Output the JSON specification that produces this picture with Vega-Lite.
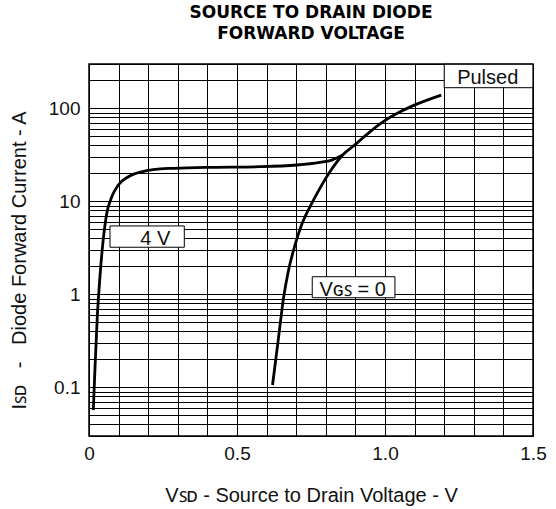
{
  "$schema": "https://vega.github.io/schema/vega-lite/v6.json",
  "width": 444,
  "height": 372,
  "autosize": {"type": "none"},
  "padding": {"left": 89, "top": 64, "right": 23, "bottom": 73},
  "background": "white",
  "title": {
    "text": ["SOURCE TO DRAIN DIODE", "FORWARD VOLTAGE"],
    "font": "DejaVu Sans",
    "fontSize": 17,
    "fontWeight": "bold",
    "color": "#000",
    "lineHeight": 21,
    "anchor": "middle",
    "frame": "group",
    "offset": 12
  },
  "config": {
    "view": {"stroke": "#000", "strokeWidth": 1.5},
    "font": "Liberation Sans"
  },
  "datasets": {
    "curves": [
      {"s": "4V", "v": 0.0146, "i": 0.057},
      {"s": "4V", "v": 0.020, "i": 0.154},
      {"s": "4V", "v": 0.028, "i": 0.575},
      {"s": "4V", "v": 0.037, "i": 1.55},
      {"s": "4V", "v": 0.048, "i": 3.85},
      {"s": "4V", "v": 0.060, "i": 7.4},
      {"s": "4V", "v": 0.077, "i": 11.2},
      {"s": "4V", "v": 0.099, "i": 15},
      {"s": "4V", "v": 0.133, "i": 18.4},
      {"s": "4V", "v": 0.178, "i": 20.8},
      {"s": "4V", "v": 0.268, "i": 22.6},
      {"s": "4V", "v": 0.392, "i": 23.2},
      {"s": "4V", "v": 0.578, "i": 23.6},
      {"s": "4V", "v": 0.702, "i": 24.6},
      {"s": "4V", "v": 0.780, "i": 26.3},
      {"s": "4V", "v": 0.820, "i": 27.8},
      {"s": "4V", "v": 0.857, "i": 31.5},
      {"s": "0V", "v": 0.620, "i": 0.106},
      {"s": "0V", "v": 0.640, "i": 0.337},
      {"s": "0V", "v": 0.657, "i": 0.906},
      {"s": "0V", "v": 0.673, "i": 1.75},
      {"s": "0V", "v": 0.696, "i": 3.4},
      {"s": "0V", "v": 0.718, "i": 5.57},
      {"s": "0V", "v": 0.747, "i": 8.8},
      {"s": "0V", "v": 0.780, "i": 13.8},
      {"s": "0V", "v": 0.814, "i": 20.8},
      {"s": "0V", "v": 0.857, "i": 31.5},
      {"s": "0V", "v": 0.904, "i": 42},
      {"s": "0V", "v": 0.949, "i": 56},
      {"s": "0V", "v": 0.994, "i": 72},
      {"s": "0V", "v": 1.051, "i": 92},
      {"s": "0V", "v": 1.107, "i": 111},
      {"s": "0V", "v": 1.190, "i": 139}
    ],
    "lab4": [{"label": "4 V", "v": 0.224, "i": 3.4}],
    "labP": [{"label": "Pulsed", "v": 1.347, "i": 181.5}],
    "labG": [{"label": "Vɢꜱ = 0", "v": 0.891, "i": 0.96}]
  },
  "encoding": {
    "x": {
      "field": "v",
      "type": "quantitative",
      "scale": {"domain": [0, 1.5], "nice": false, "zero": false},
      "axis": {
        "values": [0, 0.1, 0.2, 0.3, 0.4, 0.5, 0.6, 0.7, 0.8, 0.9, 1.0, 1.1, 1.2, 1.3, 1.4, 1.5],
        "labelExpr": "datum.value == 0 ? '0' : datum.value == 0.5 ? '0.5' : datum.value == 1 ? '1.0' : datum.value == 1.5 ? '1.5' : ''",
        "grid": true,
        "gridColor": "#000",
        "gridWidth": 1,
        "gridOpacity": 1,
        "ticks": false,
        "tickSize": 0,
        "domain": false,
        "labelFont": "Liberation Sans",
        "labelFontSize": 19,
        "labelColor": "#111",
        "labelPadding": 8,
        "labelOverlap": false,
        "labelBound": false,
        "labelFlush": false,
        "labelSeparation": 0,
        "title": "Vꜱᴅ - Source to Drain Voltage - V",
        "titleFont": "Liberation Sans",
        "titleFontSize": 20,
        "titleFontWeight": "normal",
        "titleColor": "#111",
        "titleAlign": "center",
        "titleBaseline": "alphabetic",
        "titleX": 222,
        "titleY": 65
      }
    },
    "y": {
      "field": "i",
      "type": "quantitative",
      "scale": {"type": "log", "domain": [0.03, 300], "nice": false},
      "axis": {
        "values": [0.03, 0.04, 0.05, 0.06, 0.07, 0.08, 0.09, 0.1, 0.2, 0.3, 0.4, 0.5, 0.6, 0.7, 0.8, 0.9, 1, 2, 3, 4, 5, 6, 7, 8, 9, 10, 20, 30, 40, 50, 60, 70, 80, 90, 100, 200, 300],
        "labelExpr": "datum.value == 0.1 ? '0.1' : datum.value == 1 ? '1' : datum.value == 10 ? '10' : datum.value == 100 ? '100' : ''",
        "grid": true,
        "gridColor": "#000",
        "gridWidth": 1,
        "gridOpacity": 1,
        "ticks": false,
        "tickSize": 0,
        "domain": false,
        "labelFont": "Liberation Sans",
        "labelFontSize": 19,
        "labelColor": "#111",
        "labelPadding": 9,
        "labelOverlap": false,
        "labelBound": false,
        "labelFlush": false,
        "title": "Iꜱᴅ\u00a0\u00a0\u00a0-\u00a0\u00a0\u00a0Diode Forward Current - A",
        "titleFont": "Liberation Sans",
        "titleFontSize": 20,
        "titleFontWeight": "normal",
        "titleColor": "#111",
        "titleAngle": -90,
        "titleAlign": "center",
        "titleBaseline": "alphabetic",
        "titleX": -64,
        "titleY": 196
      }
    }
  },
  "layer": [
    {
      "data": {"name": "curves"},
      "mark": {"type": "line", "color": "#000", "strokeWidth": 2.8, "interpolate": "monotone", "clip": true},
      "encoding": {"detail": {"field": "s"}}
    },
    {
      "data": {"name": "lab4"},
      "mark": {"type": "point", "shape": "M-45.3,-19H29V2.3H-45.3Z", "size": 4, "filled": true, "fill": "white", "stroke": "#000", "strokeWidth": 1, "opacity": 1, "fillOpacity": 1, "strokeOpacity": 1}
    },
    {
      "data": {"name": "lab4"},
      "mark": {"type": "text", "font": "Liberation Sans", "fontSize": 20, "color": "#111", "align": "center", "baseline": "alphabetic"},
      "encoding": {"text": {"field": "label"}}
    },
    {
      "data": {"name": "labP"},
      "mark": {"type": "point", "shape": "M-43.5,-20H45.2V3.4H-43.5Z", "size": 4, "filled": true, "fill": "white", "stroke": "#000", "strokeWidth": 1, "opacity": 1, "fillOpacity": 1, "strokeOpacity": 1}
    },
    {
      "data": {"name": "labP"},
      "mark": {"type": "text", "font": "Liberation Sans", "fontSize": 20, "color": "#111", "align": "center", "baseline": "alphabetic"},
      "encoding": {"text": {"field": "label"}}
    },
    {
      "data": {"name": "labG"},
      "mark": {"type": "point", "shape": "M-40.5,-19.3H42.2V1.7H-40.5Z", "size": 4, "filled": true, "fill": "white", "stroke": "#000", "strokeWidth": 1, "opacity": 1, "fillOpacity": 1, "strokeOpacity": 1}
    },
    {
      "data": {"name": "labG"},
      "mark": {"type": "text", "font": "Liberation Sans", "fontSize": 20, "color": "#111", "align": "center", "baseline": "alphabetic"},
      "encoding": {"text": {"field": "label"}}
    }
  ]
}
